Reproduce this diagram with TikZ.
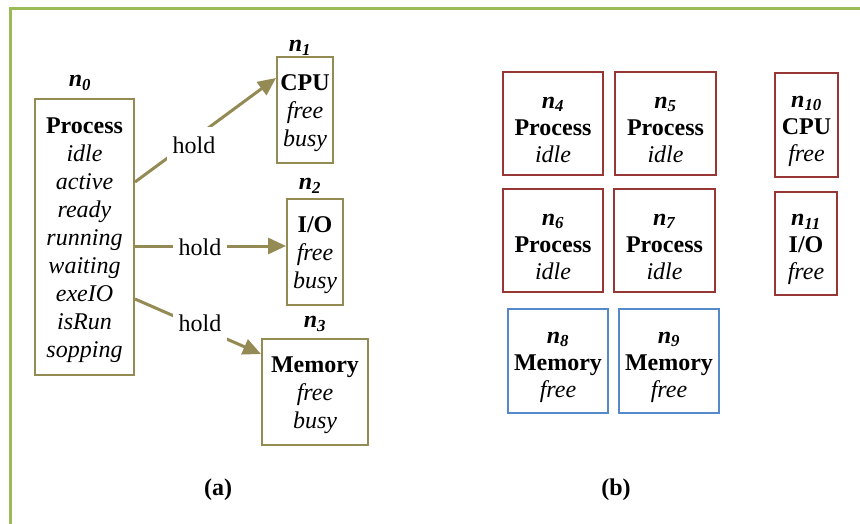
\documentclass[tikz,border=0pt]{standalone}
\usepackage{fontspec}
\setmainfont{Liberation Serif}
\usetikzlibrary{arrows.meta}
\definecolor{frameg}{RGB}{155,187,89}
\definecolor{olive}{RGB}{148,138,84}
\definecolor{boxred}{RGB}{150,55,53}
\definecolor{boxblue}{RGB}{85,137,200}
\newcommand\nlab[1]{\textbf{\textit{n}}\textsubscript{\textbf{\textit{#1}}}}
\tikzset{
  txt/.style={font=\fontsize{24}{28}\selectfont, align=center, inner sep=0pt},
  rtxt/.style={txt, font=\fontsize{24}{27}\selectfont},
  obox/.style={draw=olive, line width=2pt, inner sep=0pt},
  rbox/.style={draw=boxred, line width=2pt, inner sep=0pt},
  bbox/.style={draw=boxblue, line width=2pt, inner sep=0pt},
  conn/.style={draw=olive, line width=3pt, -{Triangle[length=18pt,width=16pt]}},
  holdlab/.style={txt, fill=white, inner xsep=6pt, inner ysep=10pt},
}
\begin{document}
\begin{tikzpicture}[x=1pt,y=-1pt]
\useasboundingbox (0,0) rectangle (860,524);
\fill[white] (0,0) rectangle (860,524);
\draw[frameg, line width=3pt] (10,524) -- (10,8.5) -- (860,8.5);

% (a)
\node[obox, minimum width=99pt, minimum height=276pt] (n0) at (84.5,237) {};
\node[txt] (t0) at (84.5,240)
  {\textbf{Process}\\ \textit{idle}\\ \textit{active}\\ \textit{ready}\\ \textit{running}\\ \textit{waiting}\\ \textit{exeIO}\\ \textit{isRun}\\ \textit{sopping}};
\node[txt] (l0) at (80,83) {\nlab{0}};
\node[obox, minimum width=56pt, minimum height=106pt] (n1) at (305,110) {};
\node[txt] (t1) at (305,113) {\textbf{CPU}\\ \textit{free}\\ \textit{busy}};
\node[txt] (l1) at (300,48) {\nlab{1}};
\node[obox, minimum width=56pt, minimum height=106pt] (n2) at (315,252) {};
\node[txt] (t2) at (315,255) {\textbf{I/O}\\ \textit{free}\\ \textit{busy}};
\node[txt] (l2) at (310,186) {\nlab{2}};
\node[obox, minimum width=106pt, minimum height=106pt] (n3) at (315,392) {};
\node[txt] (t3) at (315,395) {\textbf{Memory}\\ \textit{free}\\ \textit{busy}};
\node[txt] (l3) at (315,324) {\nlab{3}};

\draw[conn] ([yshift=55pt]n0.east) -- ([yshift=32pt]n1.west);
\draw[conn] ([yshift=-9pt]n0.east) -- ([yshift=6pt]n2.west);
\draw[conn] ([yshift=-62pt]n0.east) -- ([yshift=38pt]n3.west);
\node[holdlab] (h1) at (194,145) {hold};
\node[holdlab] (h2) at (200,247) {hold};
\node[holdlab] (h3) at (200,323) {hold};

\node[txt] (capa) at (218,490) {\textbf{(a)}};

% (b)
\node[rbox, minimum width=100pt, minimum height=103pt] (n4) at (553,123.5) {};
\node[rtxt] (t4) at (553,129.5) {\nlab{4}\\ \textbf{Process}\\ \textit{idle}};
\node[rbox, minimum width=101pt, minimum height=103pt] (n5) at (665.5,123.5) {};
\node[rtxt] (t5) at (665.5,129.5) {\nlab{5}\\ \textbf{Process}\\ \textit{idle}};
\node[rbox, minimum width=100pt, minimum height=103pt] (n6) at (553,240.5) {};
\node[rtxt] (t6) at (553,246.5) {\nlab{6}\\ \textbf{Process}\\ \textit{idle}};
\node[rbox, minimum width=101pt, minimum height=103pt] (n7) at (664.5,240.5) {};
\node[rtxt] (t7) at (664.5,246.5) {\nlab{7}\\ \textbf{Process}\\ \textit{idle}};
\node[rbox, minimum width=63pt, minimum height=104pt] (n10) at (806.5,125) {};
\node[rtxt] (t10) at (806.5,131) {\nlab{10}\\ \textbf{CPU}\\ \textit{free}};
\node[rbox, minimum width=62pt, minimum height=103pt] (n11) at (806,243.5) {};
\node[rtxt] (t11) at (806,249.5) {\nlab{11}\\ \textbf{I/O}\\ \textit{free}};
\node[bbox, minimum width=100pt, minimum height=104pt] (n8) at (558,361) {};
\node[rtxt] (t8) at (558,367) {\nlab{8}\\ \textbf{Memory}\\ \textit{free}};
\node[bbox, minimum width=100pt, minimum height=104pt] (n9) at (669,361) {};
\node[rtxt] (t9) at (669,367) {\nlab{9}\\ \textbf{Memory}\\ \textit{free}};

\node[txt] (capb) at (616,490) {\textbf{(b)}};
\end{tikzpicture}
\end{document}
